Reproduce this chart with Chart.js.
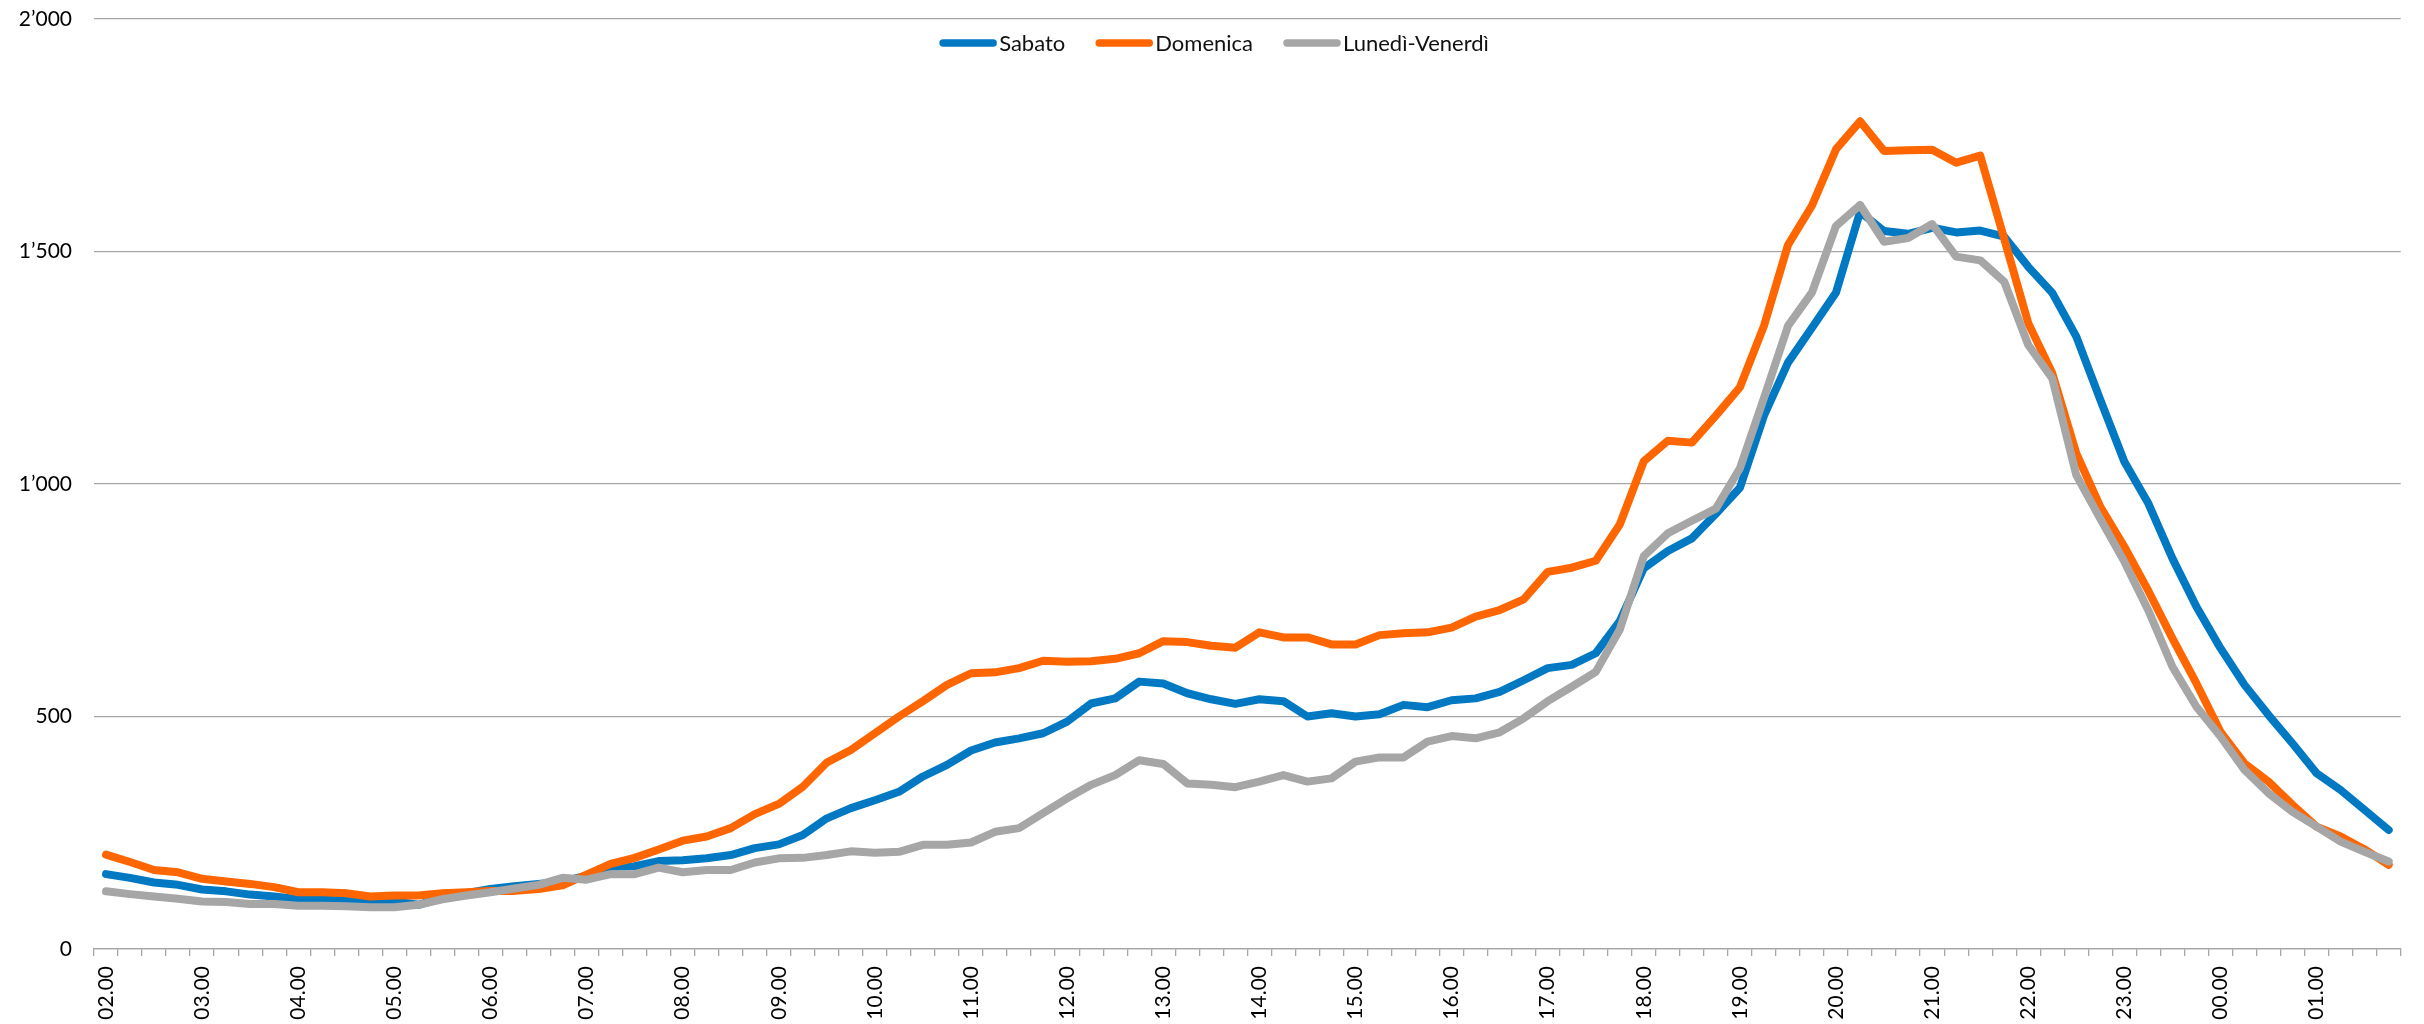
<!DOCTYPE html>
<html>
<head>
<meta charset="utf-8">
<script src="https://cdn.jsdelivr.net/npm/chart.js@4/dist/chart.umd.min.js"></script>
<style>
html,body{margin:0;padding:0;background:#fff;}
#wrap{width:2424px;height:1024px;position:relative;}
</style>
</head>
<body>
<div id="wrap"><canvas id="c" width="2424" height="1024"></canvas></div>
<script>
const timeLabels = [
"02.00","02.15","02.30","02.45","03.00","03.15","03.30","03.45",
"04.00","04.15","04.30","04.45","05.00","05.15","05.30","05.45",
"06.00","06.15","06.30","06.45","07.00","07.15","07.30","07.45",
"08.00","08.15","08.30","08.45","09.00","09.15","09.30","09.45",
"10.00","10.15","10.30","10.45","11.00","11.15","11.30","11.45",
"12.00","12.15","12.30","12.45","13.00","13.15","13.30","13.45",
"14.00","14.15","14.30","14.45","15.00","15.15","15.30","15.45",
"16.00","16.15","16.30","16.45","17.00","17.15","17.30","17.45",
"18.00","18.15","18.30","18.45","19.00","19.15","19.30","19.45",
"20.00","20.15","20.30","20.45","21.00","21.15","21.30","21.45",
"22.00","22.15","22.30","22.45","23.00","23.15","23.30","23.45",
"00.00","00.15","00.30","00.45","01.00","01.15","01.30","01.45"
];

const sabato = [
161,153,143,138,128,124,117,113,107,106,106,102,102,95,110,120,129,135,140,145,158,177,178,189,
191,195,202,217,225,245,281,303,320,338,371,396,427,444,453,464,489,528,
539,575,571,550,537,527,537,533,500,507,500,505,525,520,535,539,553,578,604,611,636,
705,819,856,883,936,992,1147,1261,1336,1412,1585,1544,1538,1551,1541,1545,
1532,1467,1411,1317,1181,1048,958,840,736,647,568,503,442,378,342,299,256
];

const domenica = [
203,187,170,165,151,145,140,133,122,122,120,113,115,115,120,122,125,125,129,137,160,183,196,214,
233,242,260,290,312,349,401,428,464,500,533,568,593,595,604,620,618,619,
624,636,662,660,652,648,681,670,670,655,655,675,679,681,691,715,729,752,811,820,835,
913,1049,1093,1089,1147,1208,1340,1514,1599,1720,1780,1716,1718,1719,1691,1706,
1527,1346,1238,1066,951,865,770,668,571,467,399,360,310,263,242,214,181
];

const lunVen = [
124,118,113,108,102,101,97,97,93,93,92,90,90,95,107,115,122,130,138,153,149,161,161,175,
165,170,170,186,195,196,202,210,207,209,224,224,229,252,260,292,324,353,
374,406,398,356,353,348,360,374,360,367,403,412,412,446,458,453,466,496,533,564,596,
687,845,894,921,947,1034,1185,1340,1412,1555,1600,1521,1529,1559,1489,1481,
1435,1299,1227,1019,925,833,728,607,521,457,385,335,295,263,231,209,188
];

const seriesNames = ["Sabato", "Domenica", "Luned\u00ec-Venerd\u00ec"];
const seriesColors = ["#0079C2", "#FF6600", "#A6A6A6"];
const yTicks = [0, 500, 1000, 1500, 2000];

const FONT = "Lato, 'Open Sans', 'Liberation Sans', sans-serif";

function fmt(v) {
  const s = String(Math.round(v));
  return s.replace(/\B(?=(\d{3})+(?!\d))/g, "\u2019");
}

const legendPlugin = {
  id: 'customLegend',
  afterDraw(chart) {
    const ctx = chart.ctx;
    ctx.save();
    ctx.font = "22px " + FONT;
    ctx.textBaseline = 'middle';
    const lineLen = 58, gapText = 2, gapItem = 30;
    const items = chart.data.datasets.map(d => ({text: d.label, color: d.borderColor, w: ctx.measureText(d.label).width}));
    let total = 0;
    items.forEach((it, i) => { total += lineLen + gapText + it.w + (i < items.length - 1 ? gapItem : 0); });
    const cx = 1214, cy = 43;
    let x = cx - total / 2;
    items.forEach(it => {
      ctx.strokeStyle = it.color;
      ctx.lineWidth = 7.5;
      ctx.lineCap = 'round';
      ctx.beginPath();
      ctx.moveTo(x + 4, cy);
      ctx.lineTo(x + lineLen - 4, cy);
      ctx.stroke();
      ctx.fillStyle = '#111';
      ctx.textAlign = 'left';
      ctx.fillText(it.text, x + lineLen + gapText, cy + 1);
      x += lineLen + gapText + it.w + gapItem;
    });
    ctx.restore();
  }
};

const mk = (i, data, order) => ({
  label: seriesNames[i],
  data: data,
  borderColor: seriesColors[i],
  backgroundColor: seriesColors[i],
  borderWidth: 8,
  pointRadius: 0,
  pointHoverRadius: 0,
  tension: 0,
  borderJoinStyle: 'round',
  borderCapStyle: 'round',
  fill: false,
  order: order
});

new Chart(document.getElementById('c'), {
  type: 'line',
  data: {
    labels: timeLabels,
    datasets: [mk(0, sabato, 3), mk(1, domenica, 2), mk(2, lunVen, 1)]
  },
  plugins: [legendPlugin],
  options: {
    responsive: false,
    devicePixelRatio: 1,
    animation: false,
    layout: { padding: { left: 0, right: 22, top: 19, bottom: 0 } },
    plugins: { legend: { display: false }, tooltip: { enabled: false } },
    scales: {
      x: {
        type: 'category',
        offset: true,
        grid: {
          display: true,
          offset: true,
          drawOnChartArea: false,
          drawTicks: true,
          tickLength: 7,
          color: '#A6A6A6',
          lineWidth: 1.3
        },
        border: { display: true, color: '#A6A6A6', width: 1.3 },
        ticks: {
          autoSkip: false,
          minRotation: 90,
          maxRotation: 90,
          padding: 10,
          color: '#000',
          font: { family: FONT, size: 21 },
          callback: function(v, i) {
            const l = timeLabels[i];
            return l.endsWith('.00') ? l : '';
          }
        },
        afterFit(scale) { scale.height = 75; scale.paddingTop = 0; scale.paddingBottom = 0; }
      },
      y: {
        min: 0,
        max: 2000,
        afterBuildTicks(scale) { scale.ticks = yTicks.map(v => ({value: v})); },
        grid: {
          color: '#A6A6A6',
          lineWidth: 1.3,
          drawTicks: false
        },
        border: { display: false },
        ticks: {
          padding: 22,
          color: '#000',
          font: { family: FONT, size: 21 },
          callback: v => fmt(v)
        },
        afterFit(scale) { scale.width = 94; scale.paddingTop = 0; scale.paddingBottom = 0; }
      }
    }
  }
});
</script>
</body>
</html>
